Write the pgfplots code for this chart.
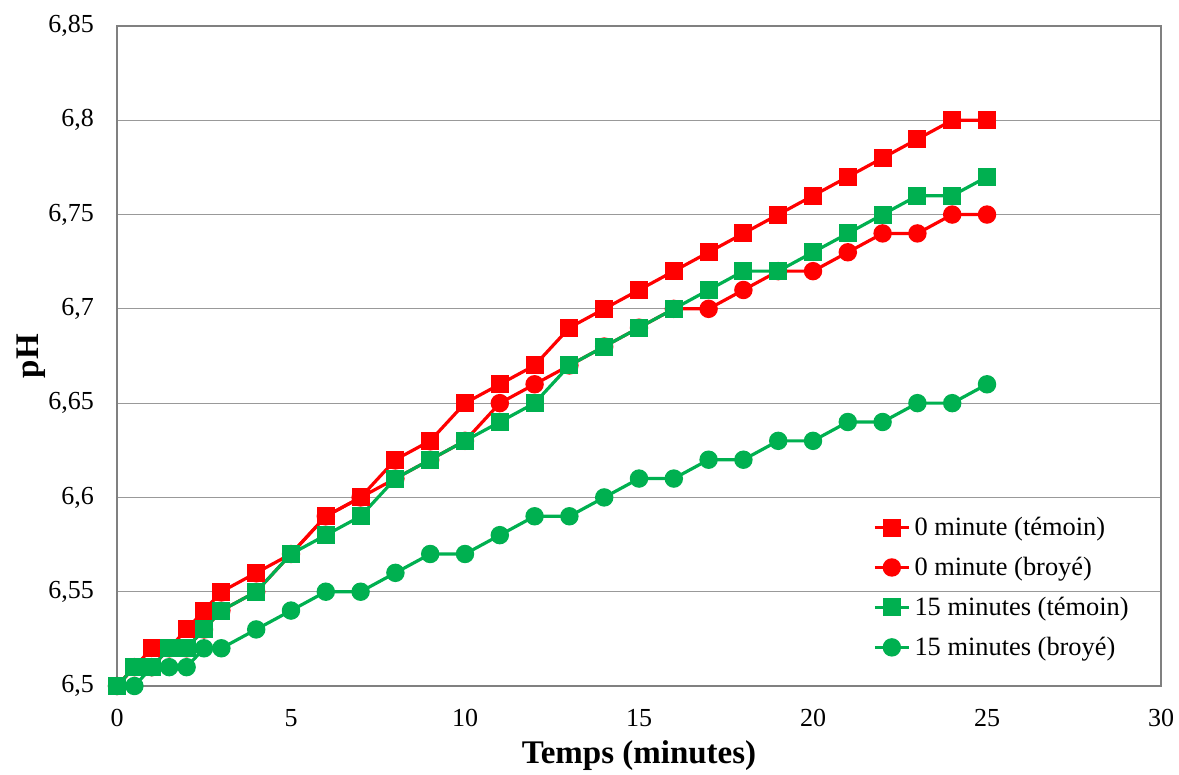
\documentclass[border=0pt]{standalone}
\usepackage{pgfplots}
\pgfplotsset{compat=1.18}
\usepackage{fontspec}
\setmainfont{Liberation Serif}
\definecolor{myred}{HTML}{FF0000}
\definecolor{mygreen}{HTML}{00B050}
\begin{document}
\begin{tikzpicture}
\begin{axis}[
  name=ax,
  scale only axis,
  width=522pt, height=330pt,
  xmin=0, xmax=30, ymin=6.5, ymax=6.85,
  xtick={0,5,...,30},
  ytick={6.5,6.55,...,6.86},
  ymajorgrids,
  grid style={color=black!40, line width=0.6pt},
  axis line style={color=black!50, line width=0.7pt},
  major tick length=0pt,
  tick style={draw=none},
  /pgf/number format/assume math mode=true,
  /pgf/number format/use comma,
  /pgf/number format/fixed,
  /pgf/number format/precision=2,
  ticklabel style={font=\fontsize{13}{15}\selectfont},
  yticklabel style={xshift=-8pt},
  xticklabel style={yshift=-8pt},
  xlabel={\textbf{Temps (minutes)}},
  ylabel={\textbf{pH}},
  xlabel style={font=\fontsize{16.5}{18}\selectfont, at={(rel axis cs:0.5,0)}, anchor=center, yshift=-35pt},
  ylabel style={font=\fontsize{16.5}{18}\selectfont, at={(rel axis cs:0,0.5)}, anchor=center, yshift=43pt},
  every axis plot/.append style={line width=1.6pt},
  legend cell align=left,
  legend style={draw=none, fill=none, at={(rel axis cs:0.722,0.266)}, anchor=north west,
    font=\fontsize{13.2}{15}\selectfont, row sep=5.3pt, inner sep=1pt},
  legend image code/.code={%
    \draw[#1,mark repeat=2,mark phase=2] plot coordinates {(0cm,0cm)(0.3cm,0cm)(0.6cm,0cm)};},
]
\addplot[color=myred, mark=square*, mark size=3.7pt, mark options={solid}] coordinates {
(0,6.50)(0.5,6.51)(1,6.52)(1.5,6.52)(2,6.53)(2.5,6.54)(3,6.55)(4,6.56)(5,6.57)(6,6.59)(7,6.60)(8,6.62)(9,6.63)(10,6.65)(11,6.66)(12,6.67)(13,6.69)(14,6.70)(15,6.71)(16,6.72)(17,6.73)(18,6.74)(19,6.75)(20,6.76)(21,6.77)(22,6.78)(23,6.79)(24,6.80)(25,6.80)};
\addlegendentry{0 minute (témoin)}
\addplot[color=myred, mark=*, mark size=3.8pt] coordinates {
(0,6.50)(0.5,6.51)(1,6.51)(1.5,6.52)(2,6.52)(2.5,6.53)(3,6.54)(4,6.55)(5,6.57)(6,6.59)(7,6.60)(8,6.61)(9,6.62)(10,6.63)(11,6.65)(12,6.66)(13,6.67)(14,6.68)(15,6.69)(16,6.70)(17,6.70)(18,6.71)(19,6.72)(20,6.72)(21,6.73)(22,6.74)(23,6.74)(24,6.75)(25,6.75)};
\addlegendentry{0 minute (broyé)}
\addplot[color=mygreen, mark=square*, mark size=3.7pt] coordinates {
(0,6.50)(0.5,6.51)(1,6.51)(1.5,6.52)(2,6.52)(2.5,6.53)(3,6.54)(4,6.55)(5,6.57)(6,6.58)(7,6.59)(8,6.61)(9,6.62)(10,6.63)(11,6.64)(12,6.65)(13,6.67)(14,6.68)(15,6.69)(16,6.70)(17,6.71)(18,6.72)(19,6.72)(20,6.73)(21,6.74)(22,6.75)(23,6.76)(24,6.76)(25,6.77)};
\addlegendentry{15 minutes (témoin)}
\addplot[color=mygreen, mark=*, mark size=3.8pt] coordinates {
(0,6.50)(0.5,6.50)(1,6.51)(1.5,6.51)(2,6.51)(2.5,6.52)(3,6.52)(4,6.53)(5,6.54)(6,6.55)(7,6.55)(8,6.56)(9,6.57)(10,6.57)(11,6.58)(12,6.59)(13,6.59)(14,6.60)(15,6.61)(16,6.61)(17,6.62)(18,6.62)(19,6.63)(20,6.63)(21,6.64)(22,6.64)(23,6.65)(24,6.65)(25,6.66)};
\addlegendentry{15 minutes (broyé)}
\end{axis}
\pgfresetboundingbox
\path[use as bounding box] ([xshift=-58.5pt,yshift=-44pt]ax.south west) rectangle ([xshift=9pt,yshift=13pt]ax.north east);
\end{tikzpicture}
\end{document}
